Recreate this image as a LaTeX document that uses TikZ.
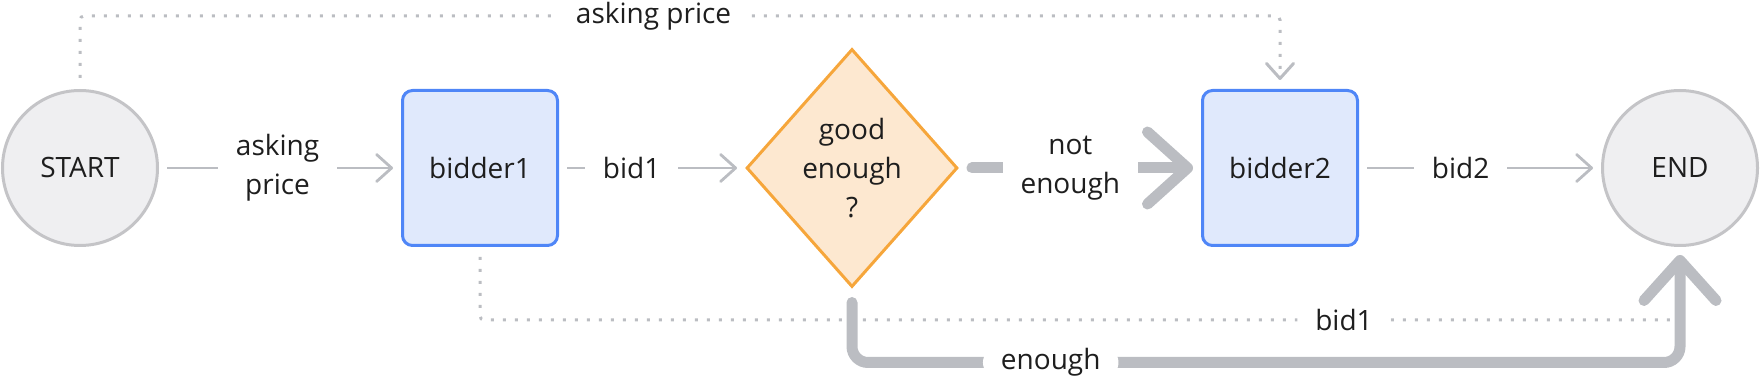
\documentclass[tikz,border=0pt]{standalone}
\usepackage{fontspec}
\setmainfont{Open Sans}
\usetikzlibrary{arrows.meta,shapes.geometric}
\definecolor{edgegray}{HTML}{BBBDC2}
\definecolor{termfill}{HTML}{EFEFF1}
\definecolor{termborder}{HTML}{C4C4C7}
\definecolor{procfill}{HTML}{E0E9FC}
\definecolor{procborder}{HTML}{4F86F7}
\definecolor{decfill}{HTML}{FDE8D0}
\definecolor{decborder}{HTML}{F6A63B}
\definecolor{txt}{HTML}{1E1E1E}
\tikzset{
  basefont/.style={font=\fontsize{14pt}{19.5pt}\selectfont, text=txt},
  term/.style={circle, draw=termborder, fill=termfill, line width=1.5pt, minimum size=77.5pt, inner sep=0pt, basefont},
  proc/.style={rectangle, rounded corners=5pt, draw=procborder, fill=procfill, line width=1.5pt, minimum size=77.5pt, inner sep=0pt, basefont},
  dec/.style={diamond, draw=decborder, fill=decfill, line width=1.5pt, minimum width=105.5pt, minimum height=119pt, inner sep=0pt, align=center, basefont},
  thintip/.tip={Straight Barb[length=7.5pt,width=13.5pt,line cap=round,line join=round]},
  bigtip/.tip={Straight Barb[length=20pt,width=36pt,line cap=round,line join=round]},
  flow/.style={draw=edgegray, line width=1.4pt, -thintip, shorten <=4pt, shorten >=4pt},
  bigflow/.style={draw=edgegray, line width=5.5pt, line cap=round, -bigtip},
  dotflow/.style={draw=edgegray, line width=1.5pt, dash pattern=on 1.5pt off 4.5pt},
  lbl/.style={fill=white, inner xsep=9pt, inner ysep=1pt, align=center, basefont}
}
\begin{document}
\begin{tikzpicture}[x=0.5pt,y=-0.5pt]
\useasboundingbox (0,0) rectangle (1760,384);
\node[term] (start) at (80,168) {START};
\node[proc] (b1) at (480,168) {bidder1};
\node[dec] (dec) at (852,168) {good\\enough\\?};
\node[proc] (b2) at (1280,168) {bidder2};
\node[term] (end) at (1680,168) {END};

% dotted connectors
\draw[dotflow, rounded corners=2pt, -thintip, shorten <=5.5pt, shorten >=4.5pt]
  (start.north) -- ++(0,-73) -| node[lbl, pos=0.239] {asking price} (b2.north);
\draw[dotflow, rounded corners=2pt, shorten <=5pt, shorten >=8pt]
  (b1.south) -- ++(0,73) -| node[lbl, pos=0.36] {bid1} (end.south);

% main flow
\draw[flow] (start) -- node[lbl, pos=0.49] {asking\\price} (b1);
\draw[flow] (b1) -- node[lbl, pos=0.39] {bid1} (dec);
\draw[bigflow, shorten <=6.5pt, shorten >=4pt] (dec) -- node[lbl, pos=0.46] {not\\enough} (b2);
\draw[flow] (b2) -- node[lbl, pos=0.42] {bid2} (end);
\draw[bigflow, rounded corners=8pt, shorten <=7pt, shorten >=4pt]
  (dec.south) -- ++(0,74) -| node[lbl, pos=0.12] {enough} (end.south);
\end{tikzpicture}
\end{document}
